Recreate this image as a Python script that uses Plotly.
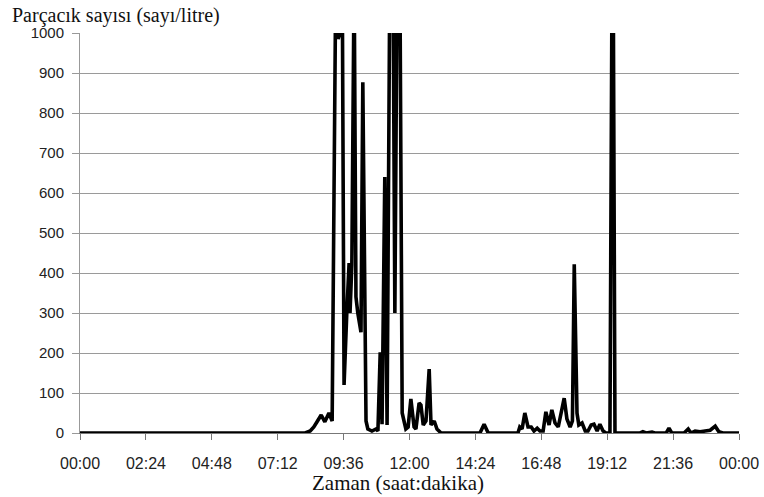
import plotly.graph_objects as go

# time of reading (minutes after midnight) and particle count (per litre)
minutes = [0, 492, 503, 511, 518, 527, 535, 544, 551, 555, 559, 564, 568, 573, 577,
           583, 588, 590, 594, 599, 603, 607, 614, 618, 625, 629, 638, 647, 651, 656,
           660, 666, 671, 677, 684, 688, 693, 699, 704, 708, 712, 717, 723, 730, 734,
           741, 745, 750, 756, 763, 767, 774, 780, 789, 874, 883, 892, 957, 961, 966,
           972, 979, 986, 992, 999, 1005, 1012, 1018, 1025, 1031, 1038, 1045, 1051, 1058,
           1064, 1071, 1076, 1080, 1086, 1090, 1097, 1104, 1110, 1117, 1123, 1130, 1136,
           1143, 1149, 1158, 1164, 1169, 1173, 1224, 1230, 1237, 1250, 1256, 1281, 1287,
           1293, 1320, 1329, 1335, 1344, 1355, 1366, 1377, 1388, 1396, 1405, 1440]
counts = [0, 0, 5, 15, 28, 45, 28, 50, 30, 500, 1150, 985, 1000, 1150, 120,
          300, 425, 300, 420, 1150, 340, 300, 252, 877, 30, 10, 5, 10, 5, 202,
          22, 640, 20, 1150, 1150, 300, 1150, 1150, 50, 30, 10, 15, 85, 15, 10,
          75, 70, 20, 30, 160, 20, 30, 10, 0, 0, 22, 0, 0, 15, 10,
          50, 15, 15, 5, 12, 5, 5, 53, 20, 58, 25, 15, 50, 87,
          35, 15, 30, 422, 50, 20, 25, 5, 5, 20, 22, 5, 22,
          5, 0, 0, 1500, 0, 0, 0, 3, 0, 2, 0, 0, 12,
          0, 0, 10, 0, 5, 3, 5, 7, 17, 3, 0, 0]

tick_minutes = [0, 144, 288, 432, 576, 720, 864, 1008, 1152, 1296, 1440]
tick_labels = ["00:00", "02:24", "04:48", "07:12", "09:36", "12:00",
               "14:24", "16:48", "19:12", "21:36", "00:00"]
y_ticks = list(range(0, 1001, 100))

fig = go.Figure()
fig.add_trace(go.Scatter(x=minutes, y=counts, mode="lines",
                         line=dict(color="black", width=3.6),
                         showlegend=False))

fig.update_layout(
    width=764, height=497,
    margin=dict(l=80, r=25, t=33, b=64, autoexpand=False),
    paper_bgcolor="white", plot_bgcolor="white",
    font=dict(family="Liberation Sans, Arial, sans-serif", size=15, color="#222"),
    xaxis=dict(range=[0, 1440], tickvals=tick_minutes, ticktext=tick_labels,
               showgrid=False, zeroline=False, showline=True, linecolor="#777",
               linewidth=1, ticks="outside", ticklen=6, tickcolor="#777",
               ticklabelstandoff=10,
               tickfont=dict(size=16, color="#222")),
    yaxis=dict(range=[0, 1000], tickvals=y_ticks, showgrid=True,
               gridcolor="#9a9a9a", gridwidth=1, zeroline=False,
               showline=True, linecolor="#999", linewidth=1,
               ticks="outside", ticklen=7, tickcolor="#999",
               ticklabelstandoff=5,
               tickfont=dict(size=15, color="#222")),
    annotations=[
        dict(text="Parçacık sayısı (sayı/litre)", xref="paper", yref="paper",
             x=-0.104, y=1.043, xanchor="left", yanchor="middle", showarrow=False,
             bgcolor="white", borderpad=0,
             font=dict(family="Liberation Serif, Times New Roman, serif", size=20, color="#111")),
        dict(text="Zaman (saat:dakika)", xref="paper", yref="paper",
             x=0.482, y=-0.125, xanchor="center", yanchor="middle", showarrow=False,
             font=dict(family="Liberation Serif, Times New Roman, serif", size=21, color="#111")),
    ],
)

fig.write_html("out.html")
